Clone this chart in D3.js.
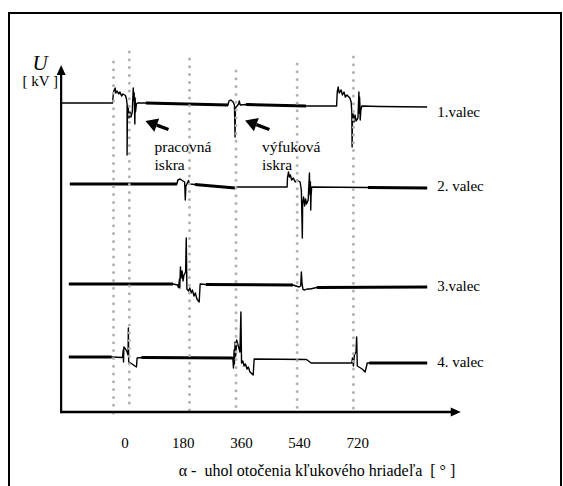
<!DOCTYPE html>
<html>
<head>
<meta charset="utf-8">
<script src="https://cdn.jsdelivr.net/npm/d3@7"></script>
<style>
  body { margin: 0; background: #fff; }
  svg { display: block; }
</style>
</head>
<body>
<svg></svg>
<script>
// tick labels of the crank angle axis
let angleTicks = [0, 180, 360, 540, 720]

// gray dotted guide lines (angle, top and bottom in U units)
let guideAngles = [-34, 15, 201, 345, 534, 708]
let guideTops = [35.0, 36.0, 35.3, 34.1, 34.8, 35.5]
let guideBottoms = [-0.3, 0.6, -0.1, 0.4, 0, 0]

// one trace for every cylinder
let cylinders = ['1.valec', '2. valec', '3.valec', '4. valec']
let baselines = [30.9, 22.7, 12.7, 5.4]
let labelLevels = [29.5, 22.1, 12.1, 4.5]

// [angle, U above its baseline]
let trace1 = [[-196,0],[-37,0],[-34,1.1],[-29,1.5],[-27,1.0],[-23,1.2],[-18,0.9],[-14,1.1],[-9,0.7],[-5,0.9],[3,0.75],[6,0.4],[8,-0.1],[8,-5.2],[9,-1.1],[11,-0.3],[14,-1.5],[17,-0.9],[20,-1.4],[24,-0.9],[27,1.5],[29,0.3],[30,1.0],[32,-2.1],[33,0.5],[34,-0.9],[37,-0.1],[40,0],[66,0],[320,-0.2],[323,0.2],[329,0.3],[336,0.1],[340,-0.2],[342,-3.4],[343,-0.5],[348,-0.3],[353,-0.1],[355,0.2],[357,-0.1],[359,-0.2],[376,-0.15],[561,-0.3],[656,-0.3],[658,1.1],[661,1.6],[664,1.0],[670,1.3],[674,0.8],[679,1.1],[683,0.6],[688,0.8],[697,0.5],[701,0.1],[703,-0.9],[704,-4.4],[705,-1.7],[707,-1.1],[710,-1.9],[713,-1.2],[716,-1.8],[722,-1.5],[725,1.1],[726,-1.0],[727,0.6],[728,-0.1],[729,-1.7],[731,-0.7],[734,-0.3],[790,-0.35],[936,-0.4]]
let trace2 = [[-169,0.1],[162,0.1],[165,0.5],[172,0.6],[181,0.4],[186,0.3],[188,-1.5],[190,-0.1],[193,0.1],[198,0.45],[201,0.1],[218,0.05],[342,-0.3],[348,-0.2],[503,-0.2],[504,0.7],[507,1.3],[510,0.8],[513,1.0],[517,0.5],[522,0.7],[528,0.3],[534,0.5],[543,0.3],[547,-0.5],[550,-5.3],[551,-1.8],[554,-1.2],[557,-2.1],[560,-1.4],[563,-1.9],[568,-1.5],[572,1.2],[573,-0.4],[574,-1.0],[575,0.3],[576,-2.5],[577,-1.1],[579,-0.2],[753,-0.25],[936,-0.3]]
let trace3 = [[-172,0.1],[150,0.1],[164,0],[167,-0.25],[170,0.6],[171,-0.3],[173,1.8],[175,0.7],[178,1.4],[181,0.4],[184,1.0],[189,1.3],[191,4.7],[193,-0.4],[198,-0.6],[202,-0.3],[206,-0.8],[210,-0.5],[215,-1.1],[219,-0.8],[224,-1.4],[231,-1.7],[234,0.1],[252,0.05],[521,0],[540,-0.2],[545,-0.1],[547,1.3],[549,0.2],[552,-0.45],[558,-0.5],[564,-0.4],[574,-0.4],[595,-0.25],[936,-0.2]]
let trace4 = [[-172,0.1],[-40,0.1],[-6,0.05],[-4,0.8],[-3,-0.4],[-2,1.1],[3,0.9],[8,0.6],[11,0.3],[12,3.0],[13,-0.4],[19,-0.5],[26,-0.65],[32,-0.8],[37,-0.9],[39,0],[53,0.05],[335,0],[337,-1.0],[339,0.8],[340,-0.6],[342,1.6],[344,0.2],[347,1.8],[351,1.3],[357,0.6],[360,4.6],[362,-0.5],[366,-0.3],[370,-0.8],[374,-0.6],[379,-1.1],[383,-0.9],[388,-1.4],[398,-1.7],[401,-0.1],[563,-0.15],[577,-0.5],[703,-0.5],[705,0],[708,-0.8],[711,0.3],[716,0.6],[718,2.1],[720,-0.8],[725,-0.9],[735,-1.1],[744,-1.4],[751,-0.5],[757,-0.5],[936,-0.5]]

// angle ranges where the scope trace is heavy
let bold1 = [[66, 320], [376, 561]]
let bold2 = [[-169, 162], [218, 342], [753, 936]]
let bold3 = [[-172, 150], [252, 521], [595, 936]]
let bold4 = [[-172, -40], [53, 335], [757, 936]]

// the two pointers on cylinder 1 and their captions
let pointerTips = [[65, 29.1], [373, 29.15]]
let pointerTails = [[136, 28.25], [448, 28.25]]
let sparkNames = ['pracovná', 'výfuková']
let sparkAngles = [93, 425]

// dimensions
let width = 563
let height = 486
let angleMin = -196
let angleMax = 1040
let uMax = 34.7
let serif = '"Liberation Serif", "Times New Roman", serif'

let svg = d3.select('svg')
let xScale
let yScale

let drawCanvas = () => {
    svg.attr('width', width)
    svg.attr('height', height)

    // frame round the picture
    svg.append('rect')
        .attr('x', 9)
        .attr('y', 13)
        .attr('width', 552)
        .attr('height', 500)
        .attr('fill', 'none')
        .attr('stroke', '#000')
        .attr('stroke-width', 2)
}

let generateScales = () => {
    xScale = d3.scaleLinear()
        .domain([0, 720])
        .range([124.5, 357.3])
    yScale = d3.scaleLinear()
        .domain([0, uMax])
        .range([412, 65])
}

let drawTraces = () => {
    let traces = [trace1, trace2, trace3, trace4]
    let bolds = [bold1, bold2, bold3, bold4]

    traces.forEach((trace, i) => {
        let line = d3.line()
            .x(d => xScale(d[0]))
            .y(d => yScale(baselines[i] + d[1]))

        svg.append('path')
            .attr('d', line(trace))
            .attr('fill', 'none')
            .attr('stroke', '#000')
            .attr('stroke-width', 1.4)
            .attr('stroke-linejoin', 'round')

        bolds[i].forEach(range => {
            let part = trace.filter(d => d[0] >= range[0] && d[0] <= range[1])
            svg.append('path')
                .attr('d', line(part))
                .attr('fill', 'none')
                .attr('stroke', '#000')
                .attr('stroke-width', 3)
        })

        let last = trace[trace.length - 1]
        svg.append('text')
            .attr('x', xScale(last[0]) + 10)
            .attr('y', yScale(labelLevels[i]))
            .style('font-family', serif)
            .style('font-size', '15px')
            .text(cylinders[i])
    })
}

let drawGuides = () => {
    svg.selectAll('.guide')
        .data(guideAngles)
        .enter()
        .append('line')
        .attr('class', 'guide')
        .attr('x1', d => xScale(d))
        .attr('x2', d => xScale(d))
        .attr('y1', (d, i) => yScale(guideTops[i]))
        .attr('y2', (d, i) => yScale(guideBottoms[i]))
        .attr('stroke', '#b3b3b3')
        .attr('stroke-width', 3)
        .attr('stroke-linecap', 'round')
        .attr('stroke-dasharray', '0 7.8')
}

let drawPointers = () => {
    pointerTips.forEach((tip, i) => {
        let tx = xScale(tip[0])
        let ty = yScale(tip[1])
        let ex = xScale(pointerTails[i][0])
        let ey = yScale(pointerTails[i][1])
        let len = Math.hypot(ex - tx, ey - ty)
        let ux = (ex - tx) / len
        let uy = (ey - ty) / len
        let bx = tx + ux * 12
        let by = ty + uy * 12

        svg.append('line')
            .attr('x1', bx)
            .attr('y1', by)
            .attr('x2', ex)
            .attr('y2', ey)
            .attr('stroke', '#000')
            .attr('stroke-width', 3.4)
        svg.append('path')
            .attr('d', 'M' + tx + ',' + ty +
                'L' + (bx - uy * 7) + ',' + (by + ux * 7) +
                'L' + (bx + uy * 7) + ',' + (by - ux * 7) + 'Z')
            .attr('fill', '#000')

        let caption = svg.append('text')
            .style('font-family', serif)
            .style('font-size', '15.5px')
        caption.append('tspan')
            .attr('x', xScale(sparkAngles[i]))
            .attr('y', yScale(26.05))
            .text(sparkNames[i])
        caption.append('tspan')
            .attr('x', xScale(sparkAngles[i]))
            .attr('y', yScale(24.25))
            .text('iskra')
    })
}

let generateAxes = () => {
    let x0 = xScale(angleMin)
    let x1 = xScale(angleMax)
    let y0 = yScale(0)
    let y1 = yScale(uMax)

    // axis lines with arrow heads
    svg.append('line')
        .attr('x1', x0).attr('y1', y0)
        .attr('x2', x1 - 8).attr('y2', y0)
        .attr('stroke', '#000').attr('stroke-width', 2.4)
    svg.append('path')
        .attr('d', 'M' + x1 + ',' + y0 + 'L' + (x1 - 10) + ',' + (y0 - 4.5) + 'L' + (x1 - 10) + ',' + (y0 + 4.5) + 'Z')
        .attr('fill', '#000')
    svg.append('line')
        .attr('x1', x0).attr('y1', y0 + 1.2)
        .attr('x2', x0).attr('y2', y1 + 8)
        .attr('stroke', '#000').attr('stroke-width', 2.2)
    svg.append('path')
        .attr('d', 'M' + x0 + ',' + y1 + 'L' + (x0 - 4.5) + ',' + (y1 + 10) + 'L' + (x0 + 4.5) + ',' + (y1 + 10) + 'Z')
        .attr('fill', '#000')

    let xAxis = d3.axisBottom(xScale)
        .tickValues(angleTicks)
        .tickSize(0)
        .tickPadding(25)
        .tickFormat(d3.format('d'))

    svg.append('g')
        .attr('id', 'x-axis')
        .attr('transform', 'translate(0, ' + y0 + ')')
        .call(xAxis)
        .call(g => g.select('.domain').remove())
        .selectAll('text')
        .attr('fill', '#000')
        .style('font-family', serif)
        .style('font-size', '15px')

    svg.append('text')
        .attr('x', 317)
        .attr('y', 476)
        .attr('text-anchor', 'middle')
        .style('font-family', serif)
        .style('font-size', '16px')
        .text('α -\u00a0 uhol otočenia kľukového hriadeľa \u00a0[ ° ]')

    svg.append('text')
        .attr('x', 40)
        .attr('y', 70)
        .attr('text-anchor', 'middle')
        .style('font-family', serif)
        .style('font-size', '21px')
        .style('font-style', 'italic')
        .text('U')
    svg.append('text')
        .attr('x', 58)
        .attr('y', 86)
        .attr('text-anchor', 'end')
        .style('font-family', serif)
        .style('font-size', '15px')
        .text('[ kV ]')
}

drawCanvas()
generateScales()
drawTraces()
drawGuides()
drawPointers()
generateAxes()
</script>
</body>
</html>
